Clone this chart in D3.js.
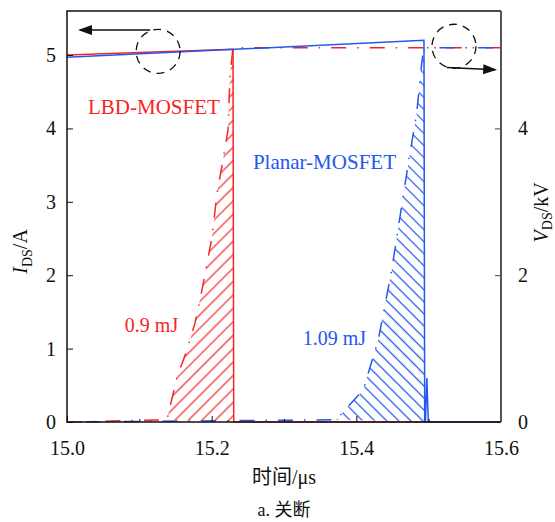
<!DOCTYPE html>
<html>
<head>
<meta charset="utf-8">
<script src="https://cdn.jsdelivr.net/npm/d3@7"></script>
<style>
body { margin: 0; background: #fff; }
svg text { font-family: "Liberation Serif", "Times New Roman", Times, "DejaVu Serif", serif; }
svg text.cjk { font-family: "Liberation Serif", "Times New Roman", "Noto Sans CJK SC", serif; }
</style>
</head>
<body>
<div id="chart"></div>
<script>
// current curves (A)
var lbdCurTime = [15.0, 15.2295, 15.2305, 15.6];
var lbdCur = [5.0, 5.08, 0, 0];
var planarCurTime = [15.0, 15.4935, 15.4945, 15.4955, 15.4975, 15.4995, 15.6];
var planarCur = [4.97, 5.2, 0, 0, 0.6, 0, 0];
// voltage curves (kV)
var lbdVolTime = [15.0, 15.1382, 15.1521, 15.1659, 15.177, 15.1866, 15.2005, 15.2074, 15.2157, 15.2226, 15.2254, 15.2295, 15.6];
var lbdVol = [0, 0.03, 0.61, 0.98, 1.35, 1.80, 2.52, 3.12, 3.57, 3.98, 4.73, 5.1, 5.1];
var planarVolTime = [15.0, 15.372, 15.4096, 15.4304, 15.4489, 15.4604, 15.4718, 15.4835, 15.4904, 15.4935, 15.6];
var planarVol = [0, 0.03, 0.44, 1.12, 2.07, 2.80, 3.52, 4.21, 4.89, 5.1, 5.1];
// switching-off instants (where current drops)
var lbdOff = 15.2305;
var planarOff = 15.4945;
var energyLabels = ["0.9 mJ", "1.09 mJ"];
var xTicks = [15.0, 15.2, 15.4, 15.6];
var xMinorTicks = [15.1, 15.3, 15.5];
var yLeftTicks = [0, 1, 2, 3, 4, 5];
var yRightTicks = [0, 2, 4];

var red = "#f52525";
var blue = "#2456f0";

var svgWidth = 555;
var svgHeight = 522;
var margin = { top: 11, right: 54, bottom: 100, left: 67 };
var width = svgWidth - margin.left - margin.right;
var height = svgHeight - margin.top - margin.bottom;

var svg = d3.select("#chart")
    .append("svg")
    .attr("width", svgWidth)
    .attr("height", svgHeight);

var defs = svg.append("defs");
function hatch(id, color, size, angle) {
    var p = defs.append("pattern")
        .attr("id", id)
        .attr("patternUnits", "userSpaceOnUse")
        .attr("width", size)
        .attr("height", size)
        .attr("patternTransform", `rotate(${angle})`);
    p.append("line")
        .attr("x1", size / 2).attr("y1", 0)
        .attr("x2", size / 2).attr("y2", size)
        .attr("stroke", color)
        .attr("stroke-width", 1.2);
}
hatch("hatchRed", red, 9.5, 45);
hatch("hatchBlue", blue, 8.5, -45);

var chartGroup = svg.append("g")
    .attr("transform", `translate(${margin.left}, ${margin.top})`);

var x = d3.scaleLinear().domain([15.0, 15.6]).range([0, width]);
var yI = d3.scaleLinear().domain([0, 5.6]).range([height, 0]);
var yV = d3.scaleLinear().domain([0, 5.6]).range([height, 0]);

function zip(t, v) {
    return t.map((d, i) => [d, v[i]]);
}

var lineI = d3.line().x(d => x(d[0])).y(d => yI(d[1]));
var lineV = d3.line().x(d => x(d[0])).y(d => yV(d[1]));

// hatched switching-loss areas: under voltage rise, up to the current drop
function lossArea(t, v, off) {
    var pts = zip(t, v).filter(d => d[1] > 0.01 && d[0] <= off);
    pts.push([off, v[v.length - 1]]);
    pts.push([off, 0]);
    return lineV(pts) + "Z";
}
chartGroup.append("path")
    .attr("d", lossArea(lbdVolTime, lbdVol, lbdOff))
    .attr("fill", "url(#hatchRed)");
chartGroup.append("path")
    .attr("d", lossArea(planarVolTime, planarVol, planarOff))
    .attr("fill", "url(#hatchBlue)");

// voltage (dash-dot)
chartGroup.append("path")
    .attr("d", lineV(zip(lbdVolTime, lbdVol)))
    .attr("fill", "none")
    .attr("stroke", red)
    .attr("stroke-width", 1.5)
    .attr("stroke-dasharray", "15,11,1.5,11");
chartGroup.append("path")
    .attr("d", lineV(zip(planarVolTime, planarVol)))
    .attr("fill", "none")
    .attr("stroke", blue)
    .attr("stroke-width", 1.5)
    .attr("stroke-dasharray", "15,11,1.5,11")
    .attr("stroke-dashoffset", 20);

// current (solid)
chartGroup.append("path")
    .attr("d", lineI(zip(lbdCurTime, lbdCur)))
    .attr("fill", "none")
    .attr("stroke", red)
    .attr("stroke-width", 1.5);
chartGroup.append("path")
    .attr("d", lineI(zip(planarCurTime, planarCur)))
    .attr("fill", "none")
    .attr("stroke", blue)
    .attr("stroke-width", 1.5);

// axes
var bottomAxis = d3.axisBottom(x).tickValues(xTicks).tickFormat(d3.format(".1f"))
    .tickSizeInner(-6).tickSizeOuter(0).tickPadding(19);
var minorAxis = d3.axisBottom(x).tickValues(xMinorTicks).tickFormat("")
    .tickSizeInner(-3).tickSizeOuter(0);
var leftAxis = d3.axisLeft(yI).tickValues(yLeftTicks).tickFormat(d3.format("d"))
    .tickSizeInner(-6).tickSizeOuter(0).tickPadding(11);
var rightAxis = d3.axisRight(yV).tickValues(yRightTicks).tickFormat(d3.format("d"))
    .tickSizeInner(-6).tickSizeOuter(0).tickPadding(17);

var gx = chartGroup.append("g").attr("transform", `translate(0, ${height})`).call(bottomAxis);
var gm = chartGroup.append("g").attr("transform", `translate(0, ${height})`).call(minorAxis);
var gl = chartGroup.append("g").call(leftAxis);
var gr = chartGroup.append("g").attr("transform", `translate(${width}, 0)`).call(rightAxis);
[gx, gm, gl, gr].forEach(function(g) {
    g.attr("font-family", null).attr("font-size", null);
    g.select(".domain").remove();
    g.selectAll("text").attr("font-size", 20).attr("fill", "#111");
    g.selectAll("line").attr("stroke", "#111");
});
gr.selectAll("line").attr("stroke", "#444");

// frame
chartGroup.append("path")
    .attr("d", `M${width},0H0V${height}H${width}`)
    .attr("fill", "none").attr("stroke", "#111").attr("stroke-width", 1.5);
chartGroup.append("line")
    .attr("x1", width).attr("y1", 0).attr("x2", width).attr("y2", height)
    .attr("stroke", "#555").attr("stroke-width", 2);

// dashed circles and arrows
var circles = [[15.126, 5.05], [15.535, 5.12]];
chartGroup.selectAll(".mark-circle")
    .data(circles)
    .enter()
    .append("circle")
    .attr("cx", d => x(d[0]))
    .attr("cy", d => yI(d[1]))
    .attr("r", 22)
    .attr("fill", "none")
    .attr("stroke", "#111")
    .attr("stroke-width", 1.3)
    .attr("stroke-dasharray", "8,6");

defs.append("marker")
    .attr("id", "arrowHead")
    .attr("viewBox", "0 0 14 10")
    .attr("refX", 12).attr("refY", 5)
    .attr("markerWidth", 14).attr("markerHeight", 10)
    .attr("markerUnits", "userSpaceOnUse")
    .attr("orient", "auto")
    .append("path")
    .attr("d", "M0,0L14,5L0,10Z")
    .attr("fill", "#111");

var arrows = [[[15.115, 5.34], [15.018, 5.34]], [[15.525, 4.83], [15.592, 4.80]]];
chartGroup.selectAll(".arrow")
    .data(arrows)
    .enter()
    .append("line")
    .attr("x1", d => x(d[0][0])).attr("y1", d => yI(d[0][1]))
    .attr("x2", d => x(d[1][0])).attr("y2", d => yI(d[1][1]))
    .attr("stroke", "#111")
    .attr("stroke-width", 1.5)
    .attr("marker-end", "url(#arrowHead)");

// series labels
chartGroup.append("text")
    .attr("x", x(15.029)).attr("y", yI(4.2))
    .attr("fill", red).attr("font-size", 21)
    .text("LBD-MOSFET");
chartGroup.append("text")
    .attr("x", x(15.257)).attr("y", yI(3.45))
    .attr("fill", blue).attr("font-size", 21)
    .text("Planar-MOSFET");
chartGroup.append("text")
    .attr("x", x(15.080)).attr("y", yI(1.22))
    .attr("fill", red).attr("font-size", 20)
    .text(energyLabels[0]);
chartGroup.append("text")
    .attr("x", x(15.326)).attr("y", yI(1.05))
    .attr("fill", blue).attr("font-size", 20)
    .text(energyLabels[1]);

// axis titles
var yTitle = svg.append("text")
    .attr("transform", `translate(27, ${margin.top + height * 0.585}) rotate(-90)`)
    .attr("text-anchor", "middle")
    .attr("font-size", 20)
    .attr("fill", "#111");
yTitle.append("tspan").attr("font-style", "italic").text("I");
yTitle.append("tspan").attr("font-size", 14).attr("dy", 5).text("DS");
yTitle.append("tspan").attr("dy", -5).text("/A");

var vTitle = svg.append("text")
    .attr("transform", `translate(${svgWidth - 7}, ${margin.top + height * 0.49}) rotate(-90)`)
    .attr("text-anchor", "middle")
    .attr("font-size", 20)
    .attr("fill", "#111");
vTitle.append("tspan").attr("font-style", "italic").text("V");
vTitle.append("tspan").attr("font-size", 14).attr("dy", 4).text("DS");
vTitle.append("tspan").attr("dy", -4).text("/kV");

svg.append("text")
    .attr("class", "cjk")
    .attr("x", margin.left + width / 2).attr("y", 484)
    .attr("text-anchor", "middle")
    .attr("font-size", 20)
    .attr("fill", "#111")
    .text("时间/μs");

svg.append("text")
    .attr("class", "cjk")
    .attr("x", margin.left + width / 2).attr("y", 516)
    .attr("text-anchor", "middle")
    .attr("font-size", 18)
    .attr("fill", "#111")
    .text("a. 关断");
</script>
</body>
</html>
